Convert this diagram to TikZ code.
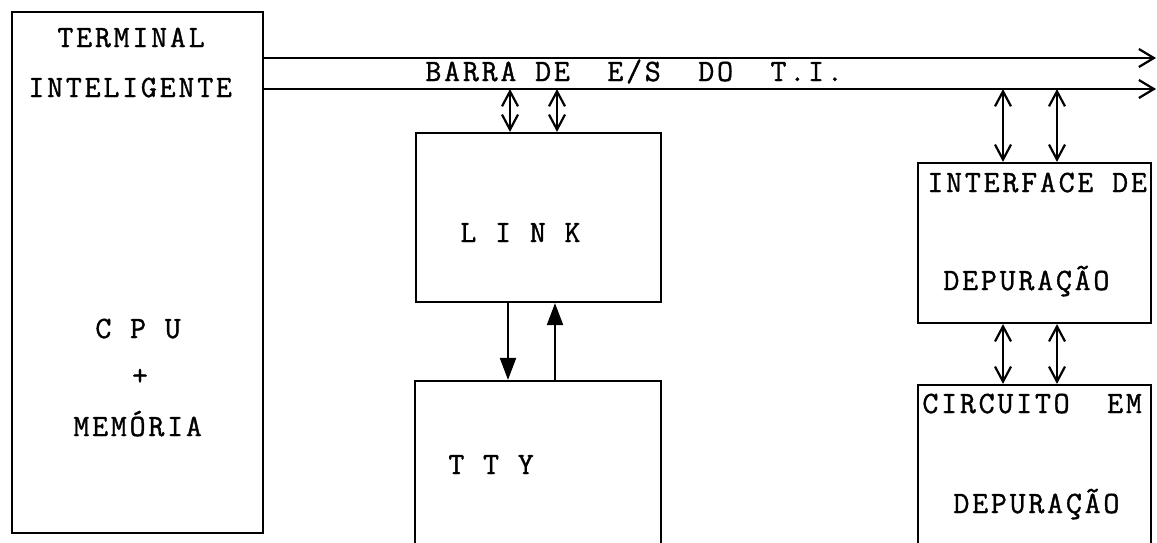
\documentclass[tikz,border=0pt]{standalone}
\usepackage{fontspec}
\newfontfamily\tw[LetterSpace=9,FakeBold=1.2]{Latin Modern Mono}
\usetikzlibrary{arrows.meta}
\tikzset{
  box/.style={draw, line width=1.1pt, inner sep=0pt},
  twfont/.style={font=\tw\fontsize{15.5}{17}\selectfont},
  lbl/.style={twfont, anchor=base west, inner sep=0pt},
  barb/.style={line width=1.1pt, -{Straight Barb[length=7.5pt,width=9pt,line width=1.1pt]}},
  dbarb/.style={line width=1.1pt, {Straight Barb[length=7.5pt,width=8pt,line width=1.1pt]}-{Straight Barb[length=7.5pt,width=8pt,line width=1.1pt]}},
  tri/.style={line width=1.1pt, -{Triangle[length=11pt,width=8pt]}},
}
\begin{document}
\begin{tikzpicture}[x=0.5pt,y=-0.5pt]
\useasboundingbox (0,0) rectangle (1157,542);
% boxes
\node[box, minimum width=125.5pt, minimum height=260.5pt] (term) at (137.5,272.5) {};
\node[box, minimum width=122.5pt, minimum height=84.5pt] (link) at (538.5,217.5) {};
\node[box, minimum width=123pt, minimum height=94.5pt] (tty) at (538,475.5) {};
\node[box, minimum width=116.5pt, minimum height=80pt] (iface) at (1034.5,243) {};
\node[box, minimum width=116.5pt, minimum height=92.5pt] (circ) at (1034.5,477.5) {};
% labels
\node[lbl] (t1) at (57,47) {TERMINAL};
\node[lbl] (t2) at (28,97) {INTELIGENTE};
\node[lbl] (t3) at (95,338) {C~P~U};
\node[twfont, inner sep=0pt] (t4) at (140,377) {+};
\node[lbl] (t5) at (73,436) {MEMÓRIA};
\node[lbl] (bus) at (425,81) {BARRA~DE~~E/S~~DO~~T.I.};
\node[lbl] (l1) at (460,242) {L~I~N~K};
\node[lbl] (y1) at (448,474) {T~T~Y};
\node[lbl] (i1) at (927,192) {INTERFACE~DE};
\node[lbl] (i2) at (943,290) {DEPURAÇÃO};
\node[lbl] (c1) at (922,413) {CIRCUITO~~EM};
\node[lbl] (c2) at (953,513) {DEPURAÇÃO};
% bus lines
\coordinate (e1) at (1156,58);
\coordinate (e2) at (1156,89);
\draw[barb] (term.east |- e1) -- (e1);
\draw[barb] (term.east |- e2) -- (e2);
% bus <-> LINK
\draw[dbarb] (e2 -| 510,0) -- (link.north -| 510,0);
\draw[dbarb] (e2 -| 557,0) -- (link.north -| 557,0);
% LINK <-> TTY
\draw[tri] (link.south -| 508,0) -- (tty.north -| 508,0);
\draw[tri] (tty.north -| 555,0) -- (link.south -| 555,0);
% bus <-> interface
\draw[dbarb] (e2 -| 1003,0) -- (iface.north -| 1003,0);
\draw[dbarb] (e2 -| 1057,0) -- (iface.north -| 1057,0);
% interface <-> circuito
\draw[dbarb] (iface.south -| 1003,0) -- (circ.north -| 1003,0);
\draw[dbarb] (iface.south -| 1057,0) -- (circ.north -| 1057,0);
\end{tikzpicture}
\end{document}
